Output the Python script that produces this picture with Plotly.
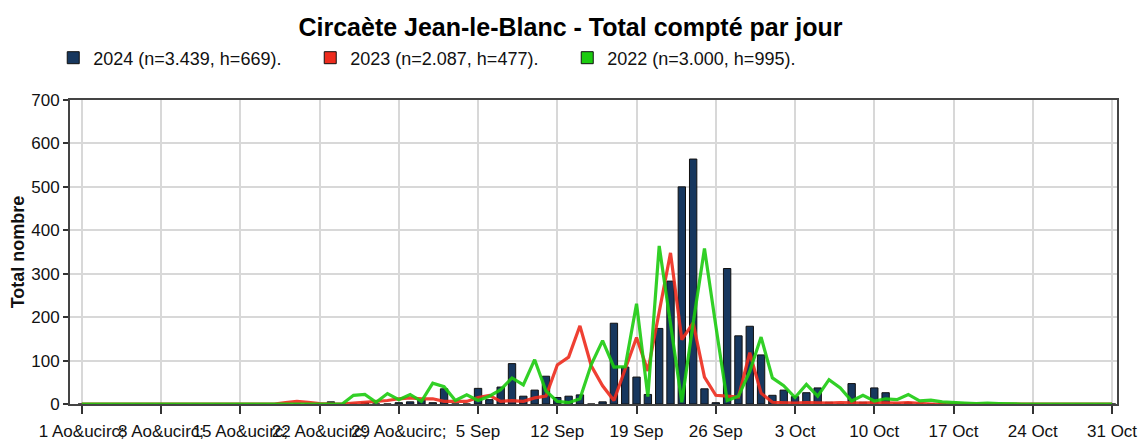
import plotly.graph_objects as go
import pandas as pd

# one value per day, 1 Aug -> 31 Oct
days = pd.date_range("2024-08-01", "2024-10-31").strftime("%Y-%m-%d").tolist()

y2024 = [0] * 22 + [5, 0, 0, 3, 0, 0, 3, 5, 10, 3, 35, 0, 0, 36, 10, 39, 93, 18, 32, 64,
                    15, 18, 21, 0, 5, 186, 85, 62, 22, 174, 283, 500, 564, 35, 3, 312, 157,
                    179, 113, 20, 32, 17, 26, 37, 4, 0, 47, 4, 37, 26, 0, 3] + [0] * 18

y2023 = [0] * 18 + [3, 6, 4, 1, 0, 0, 2, 4, 5, 8, 12, 14, 12, 12, 6, 6, 6, 15, 20, 6, 8, 6,
                    14, 18, 90, 108, 180, 88, 42, 8, 80, 153, 76, 210, 348, 148, 187, 62,
                    20, 18, 16, 118, 25, 4, 3, 2, 3, 2, 2, 3, 2, 2, 3, 2, 2, 3, 1] + [0] * 17

y2022 = [0] * 24 + [20, 22, 4, 24, 10, 22, 6, 48, 40, 8, 21, 8, 18, 33, 60, 44, 102, 30, 6,
                    3, 12, 91, 146, 85, 86, 231, 17, 364, 185, 4, 186, 358, 180, 8, 18, 75,
                    154, 60, 42, 15, 45, 18, 56, 37, 7, 20, 7, 12, 10, 22, 7, 9, 5, 3, 2, 1,
                    2, 1] + [0] * 10

names = ["2024 (n=3.439, h=669).", "2023 (n=2.087, h=477).", "2022 (n=3.000, h=995)."]
colors = ["#17375e", "#ee2c1e", "#1ccc10"]

tick_dates = ["2024-08-01", "2024-08-08", "2024-08-15", "2024-08-22", "2024-08-29",
              "2024-09-05", "2024-09-12", "2024-09-19", "2024-09-26", "2024-10-03",
              "2024-10-10", "2024-10-17", "2024-10-24", "2024-10-31"]
tick_labels = ["1 Ao&ucirc;", "8 Ao&ucirc;", "15 Ao&ucirc;", "22 Ao&ucirc;", "29 Ao&ucirc;",
               "5 Sep", "12 Sep", "19 Sep", "26 Sep", "3 Oct", "10 Oct", "17 Oct",
               "24 Oct", "31 Oct"]

day_ms = 86400000

fig = go.Figure()
fig.add_trace(go.Bar(x=days, y=y2024, name=names[0], width=0.65 * day_ms,
                     marker=dict(color=colors[0], line=dict(color="#111", width=1))))
# legend squares for the two line series
for nm, c in zip(names[1:], colors[1:]):
    fig.add_trace(go.Bar(x=[None], y=[None], name=nm,
                         marker=dict(color=c, line=dict(color="#111", width=1))))
fig.add_trace(go.Scatter(x=days, y=y2023, mode="lines", showlegend=False,
                         line=dict(color=colors[1], width=3.2), opacity=0.9))
fig.add_trace(go.Scatter(x=days, y=y2022, mode="lines", showlegend=False,
                         line=dict(color=colors[2], width=3.2), opacity=0.9))

fig.update_layout(
    width=1141, height=441,
    margin=dict(l=70, r=24, t=100, b=37),
    paper_bgcolor="white", plot_bgcolor="white",
    font=dict(family="Liberation Sans", size=17, color="#111"),
    barmode="overlay",
    title=dict(text="<b>Circaète Jean-le-Blanc - Total compté par jour</b>",
               x=0.5, xanchor="center", y=1 - 27 / 441, yanchor="middle",
               font=dict(size=25, color="#000")),
    legend=dict(orientation="h", x=-0.016, xanchor="left",
                y=1 + 42 / 304, yanchor="middle",
                font=dict(size=18), entrywidthmode="pixels", entrywidth=212,
                traceorder="normal"),
)
fig.update_xaxes(
    range=["2024-07-30 23:00", "2024-10-31 10:30"], automargin=False,
    tickmode="array", tickvals=tick_dates, ticktext=tick_labels, tickangle=0,
    ticks="outside", ticklen=8, tickwidth=2, tickcolor="#333", ticklabelstandoff=3,
    showgrid=True, gridcolor="#d8d8d8", gridwidth=2,
    showline=True, linecolor="#444", linewidth=2, mirror=True,
)
fig.update_yaxes(
    range=[0, 700], dtick=100, automargin=False,
    ticks="outside", ticklen=5, tickwidth=2, tickcolor="#333",
    showgrid=True, gridcolor="#d8d8d8", gridwidth=2, zeroline=False,
    showline=True, linecolor="#444", linewidth=2, mirror=True,
    title=dict(text="<b>Total nombre</b>", font=dict(size=18), standoff=2),
)

fig.write_html("out.html", config={"displayModeBar": False},
               post_script="document.body.style.margin='0';")
